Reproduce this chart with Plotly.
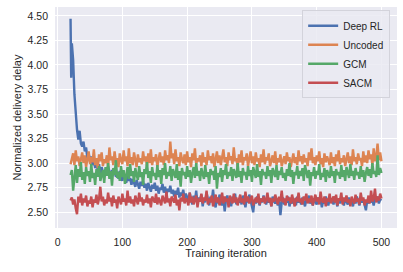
import plotly.graph_objects as go

iterations = list(range(20, 501, 2))

deep_rl_head_x = [20, 21]
deep_rl = [
    4.47, 3.87,
    4.22, 4.05, 3.70, 3.45, 3.34, 3.24, 3.33, 3.20, 3.17, 3.22,
    3.12, 3.16, 3.05, 3.10, 3.02, 3.07, 2.98, 3.04, 2.95, 3.01,
    2.93, 2.99, 2.88, 2.96, 2.91, 2.86, 2.94, 2.89, 2.97, 2.90,
    2.85, 2.93, 2.88, 2.95, 2.86, 2.91, 2.84, 2.92, 2.87, 2.82,
    2.89, 2.84, 2.80, 2.87, 2.82, 2.85, 2.78, 2.84, 2.80, 2.76,
    2.83, 2.79, 2.74, 2.81, 2.77, 2.82, 2.75, 2.79, 2.72, 2.80,
    2.76, 2.71, 2.78, 2.74, 2.80, 2.72, 2.77, 2.69, 2.75, 2.73,
    2.79, 2.70, 2.76, 2.68, 2.74, 2.71, 2.77, 2.69, 2.73, 2.66,
    2.72, 2.68, 2.75, 2.65, 2.70, 2.67, 2.73, 2.64, 2.69, 2.66,
    2.62, 2.70, 2.64, 2.58, 2.67, 2.61, 2.72, 2.59, 2.65, 2.62,
    2.68, 2.56, 2.64, 2.60, 2.70, 2.63, 2.57, 2.66, 2.61, 2.73,
    2.60, 2.55, 2.65, 2.59, 2.68, 2.62, 2.57, 2.64, 2.51, 2.63,
    2.67, 2.60, 2.64, 2.56, 2.66, 2.61, 2.69, 2.58, 2.63, 2.60,
    2.65, 2.58, 2.67, 2.62, 2.55, 2.64, 2.60, 2.68, 2.61, 2.57,
    2.50, 2.63, 2.59, 2.66, 2.61, 2.57, 2.64, 2.60, 2.67, 2.62,
    2.58, 2.65, 2.60, 2.63, 2.56, 2.66, 2.61, 2.59, 2.64, 2.57,
    2.62, 2.47, 2.60, 2.65, 2.58, 2.63, 2.60, 2.66, 2.56, 2.62,
    2.59, 2.64, 2.61, 2.57, 2.66, 2.60, 2.63, 2.58, 2.65, 2.61,
    2.56, 2.63, 2.60, 2.67, 2.59, 2.62, 2.57, 2.64, 2.61, 2.58,
    2.65, 2.60, 2.63, 2.55, 2.62, 2.59, 2.66, 2.61, 2.57, 2.64,
    2.60, 2.63, 2.58, 2.66, 2.61, 2.56, 2.63, 2.59, 2.65, 2.60,
    2.57, 2.64, 2.61, 2.58, 2.65, 2.60, 2.62, 2.56, 2.63, 2.59,
    2.66, 2.61, 2.57, 2.64, 2.60, 2.63, 2.58, 2.52, 2.62, 2.59,
    2.65, 2.60, 2.63, 2.57, 2.64, 2.61, 2.66, 2.59, 2.63, 2.62,
]

uncoded = [
    2.99, 3.04, 3.10, 2.98, 3.13, 3.02, 3.07, 2.97, 3.05, 3.11,
    3.00, 3.08, 2.96, 3.03, 3.12, 2.99, 3.06, 3.01, 3.14, 2.98,
    3.05, 2.95, 3.09, 3.02, 3.11, 2.97, 3.04, 3.00, 3.08, 2.96,
    3.16, 3.03, 3.07, 2.98, 3.12, 3.01, 3.05, 2.96, 3.10, 3.03,
    2.99, 3.13, 3.02, 3.07, 2.97, 3.15, 3.00, 3.06, 2.98, 3.11,
    3.03, 2.96, 3.09, 3.01, 3.05, 2.99, 3.12, 3.02, 3.07, 2.97,
    3.10, 3.00, 3.14, 2.98, 3.06, 3.02, 3.09, 2.96, 3.04, 3.11,
    3.01, 3.07, 2.98, 3.13, 3.03, 3.08, 3.00, 3.22, 3.05, 3.10,
    2.99, 3.14, 3.02, 3.06, 2.97, 3.11, 3.04, 3.00, 3.09, 2.98,
    3.12, 3.01, 3.06, 2.96, 3.10, 3.03, 3.15, 2.99, 3.05, 3.02,
    3.08, 2.97, 3.11, 3.01, 3.06, 2.98, 3.13, 3.03, 3.07, 3.00,
    3.10, 2.96, 3.04, 3.12, 3.00, 3.08, 2.98, 3.05, 3.14, 3.01,
    3.06, 2.97, 3.11, 3.03, 3.07, 2.99, 3.16, 3.02, 3.05, 2.96,
    3.09, 3.01, 3.13, 2.98, 3.06, 3.03, 3.10, 2.97, 3.04, 3.12,
    3.00, 3.07, 2.98, 3.11, 3.02, 3.05, 2.96, 3.09, 3.01, 3.14,
    2.99, 3.06, 3.03, 3.10, 2.97, 3.04, 3.08, 3.00, 3.12, 2.98,
    3.05, 3.01, 3.09, 2.97, 3.03, 3.07, 2.99, 3.11, 3.02, 3.06,
    2.96, 3.04, 3.10, 3.00, 3.06, 2.98, 3.13, 3.02, 3.07, 2.99,
    3.09, 3.01, 3.05, 2.97, 3.11, 3.03, 3.15, 3.00, 3.06, 2.98,
    3.08, 3.02, 3.12, 2.99, 3.05, 2.96, 3.10, 3.01, 3.07, 3.03,
    2.98, 3.11, 3.00, 3.06, 2.97, 3.09, 3.02, 3.13, 2.99, 3.05,
    3.01, 3.08, 2.97, 3.04, 3.11, 3.00, 3.07, 2.98, 3.14, 3.02,
    3.06, 2.99, 3.10, 3.03, 3.05, 2.97, 3.12, 3.01, 3.08, 3.00,
    3.13, 3.04, 3.09, 2.98, 3.15, 3.02, 3.07, 3.20, 3.03, 3.11,
    3.02,
]

gcm = [
    2.88, 2.93, 2.72, 2.85, 2.98, 2.80, 2.94, 2.86, 3.01, 2.83,
    2.91, 2.79, 2.96, 2.87, 2.92, 2.81, 2.99, 2.85, 2.90, 2.78,
    2.94, 2.86, 2.97, 2.82, 2.89, 2.93, 2.80, 2.96, 2.87, 3.00,
    2.84, 2.92, 2.77, 2.95, 2.88, 3.03, 2.85, 2.91, 2.82, 2.97,
    2.86, 2.93, 2.79, 2.90, 2.96, 2.84, 2.99, 2.87, 2.92, 2.81,
    2.95, 2.88, 2.83, 2.97, 2.86, 2.91, 2.78, 2.94, 2.89, 3.01,
    2.85, 2.92, 2.80, 2.96, 2.87, 2.90, 2.83, 2.98, 2.86, 2.93,
    2.79, 2.95, 2.88, 3.00, 2.84, 2.91, 2.87, 2.97, 2.82, 2.94,
    2.89, 2.85, 2.99, 2.83, 2.92, 2.76, 2.95, 2.88, 2.91, 2.84,
    2.97, 2.86, 2.93, 2.80, 2.90, 2.96, 2.85, 3.00, 2.87, 2.92,
    2.82, 2.95, 2.89, 2.84, 2.98, 2.86, 2.91, 2.79, 2.94, 2.88,
    2.92, 2.83, 2.97, 2.74, 2.90, 2.86, 2.95, 2.81, 2.93, 2.88,
    2.99, 2.84, 2.91, 2.87, 2.96, 2.82, 2.94, 2.89, 2.85, 3.00,
    2.86, 2.92, 2.80, 2.95, 2.88, 2.91, 2.83, 2.97, 2.87, 2.93,
    2.81, 2.96, 2.89, 2.85, 2.99, 2.86, 2.92, 2.78, 2.94, 2.88,
    2.91, 2.84, 2.97, 2.87, 2.93, 2.80, 2.95, 2.89, 2.86, 2.98,
    2.83, 2.92, 2.88, 2.96, 2.85, 2.90, 2.82, 2.94, 2.87, 3.00,
    2.86, 2.93, 2.79, 2.91, 2.88, 2.97, 2.84, 2.92, 2.87, 2.95,
    2.82, 2.98, 2.89, 2.85, 2.93, 2.77, 2.91, 2.87, 2.96, 2.84,
    2.92, 2.88, 2.99, 2.83, 2.90, 2.86, 2.95, 2.81, 2.93, 2.89,
    2.85, 2.97, 2.87, 2.92, 2.80, 2.94, 2.88, 2.91, 2.84, 2.98,
    2.86, 2.93, 2.82, 2.96, 2.89, 2.85, 2.99, 2.87, 2.92, 2.83,
    2.95, 2.88, 2.91, 2.84, 2.97, 2.86, 2.93, 2.81, 2.90, 2.96,
    2.87, 2.94, 2.85, 3.00, 2.89, 2.92, 2.86, 3.08, 2.88, 2.95,
    2.90,
]

sacm = [
    2.62, 2.65, 2.58, 2.63, 2.54, 2.48, 2.66, 2.60, 2.69, 2.57,
    2.64, 2.60, 2.67, 2.56, 2.62, 2.59, 2.66, 2.55, 2.63, 2.60,
    2.68, 2.58, 2.64, 2.76, 2.61, 2.66, 2.57, 2.63, 2.59, 2.70,
    2.61, 2.65, 2.56, 2.67, 2.60, 2.63, 2.54, 2.66, 2.62, 2.58,
    2.69, 2.61, 2.64, 2.57, 2.72, 2.60, 2.66, 2.59, 2.63, 2.56,
    2.67, 2.62, 2.58, 2.70, 2.61, 2.65, 2.57, 2.63, 2.60, 2.68,
    2.59, 2.64, 2.55, 2.66, 2.62, 2.60, 2.69, 2.58, 2.65, 2.61,
    2.57, 2.67, 2.63, 2.59, 2.71, 2.60, 2.64, 2.56, 2.66, 2.62,
    2.60, 2.68, 2.57, 2.63, 2.52, 2.65, 2.61, 2.69, 2.59, 2.64,
    2.62, 2.57, 2.70, 2.60, 2.66, 2.58, 2.63, 2.67, 2.55, 2.64,
    2.61, 2.69, 2.59, 2.65, 2.62, 2.72, 2.58, 2.64, 2.60, 2.67,
    2.56, 2.63, 2.68, 2.60, 2.65, 2.57, 2.62, 2.70, 2.59, 2.66,
    2.61, 2.64, 2.55, 2.67, 2.62, 2.59, 2.69, 2.60, 2.65, 2.57,
    2.63, 2.68, 2.60, 2.64, 2.58, 2.71, 2.61, 2.66, 2.59, 2.63,
    2.67, 2.57, 2.62, 2.65, 2.60, 2.69, 2.58, 2.64, 2.61, 2.66,
    2.59, 2.63, 2.70, 2.60, 2.65, 2.56, 2.64, 2.61, 2.68, 2.62,
    2.58, 2.66, 2.61, 2.72, 2.60, 2.64, 2.57, 2.67, 2.62, 2.65,
    2.59, 2.68, 2.62, 2.56, 2.65, 2.61, 2.70, 2.60, 2.64, 2.58,
    2.66, 2.62, 2.69, 2.59, 2.64, 2.60, 2.67, 2.57, 2.63, 2.68,
    2.61, 2.65, 2.58, 2.71, 2.62, 2.60, 2.66, 2.56, 2.64, 2.61,
    2.69, 2.59, 2.63, 2.66, 2.60, 2.68, 2.57, 2.64, 2.62, 2.70,
    2.58, 2.65, 2.61, 2.67, 2.60, 2.63, 2.56, 2.66, 2.62, 2.59,
    2.68, 2.61, 2.64, 2.58, 2.70, 2.62, 2.65, 2.57, 2.63, 2.60,
    2.67, 2.59, 2.72, 2.61, 2.64, 2.74, 2.60, 2.66, 2.62, 2.69,
    2.64,
]

series_names = ["Deep RL", "Uncoded", "GCM", "SACM"]
colors = ["#4C72B0", "#DD8452", "#55A868", "#C44E52"]
x_ticks = [0, 100, 200, 300, 400, 500]
y_ticks = [2.50, 2.75, 3.00, 3.25, 3.50, 3.75, 4.00, 4.25, 4.50]

deep_rl_x = deep_rl_head_x + iterations[1:]
xs = [deep_rl_x, iterations, iterations, iterations]
ys = [deep_rl, uncoded, gcm, sacm]

font = "Liberation Sans, Arial, sans-serif"
fig = go.Figure()
for name, c, x, y in zip(series_names, colors, xs, ys):
    fig.add_trace(go.Scatter(x=x, y=y, mode="lines", name=name,
                             line=dict(color=c, width=2.4)))

fig.update_layout(
    width=403, height=272,
    margin=dict(l=55, r=6, t=7, b=44),
    paper_bgcolor="white",
    plot_bgcolor="#EAEAF2",
    font=dict(family=font, size=11, color="#262626"),
    showlegend=True,
    legend=dict(x=0.98, y=0.985, xanchor="right", yanchor="top",
                bgcolor="rgba(234,234,242,0.85)", bordercolor="#D3D3DB",
                borderwidth=1, font=dict(size=10, color="#262626"),
                tracegroupgap=0, itemwidth=30),
)
fig.update_xaxes(
    range=[-4, 524], tickvals=x_ticks, showgrid=True, gridcolor="white",
    gridwidth=1, zeroline=False, showline=False, ticks="",
    ticklabelstandoff=6, automargin=False,
    title=dict(text="Training iteration", standoff=0, font=dict(size=11)),
    tickfont=dict(size=10.5),
)
fig.update_yaxes(
    range=[2.34, 4.59], tickvals=y_ticks, tickformat=".2f", showgrid=True,
    gridcolor="white", gridwidth=1, zeroline=False, showline=False, ticks="",
    ticklabelstandoff=6, automargin=False,
    title=dict(text="Normalized delivery delay", standoff=3, font=dict(size=11)),
    tickfont=dict(size=10.5),
)

fig.write_html("out.html",
               config={"displayModeBar": False},
               post_script="document.body.style.margin='0';"
                           "document.body.style.padding='0';")
